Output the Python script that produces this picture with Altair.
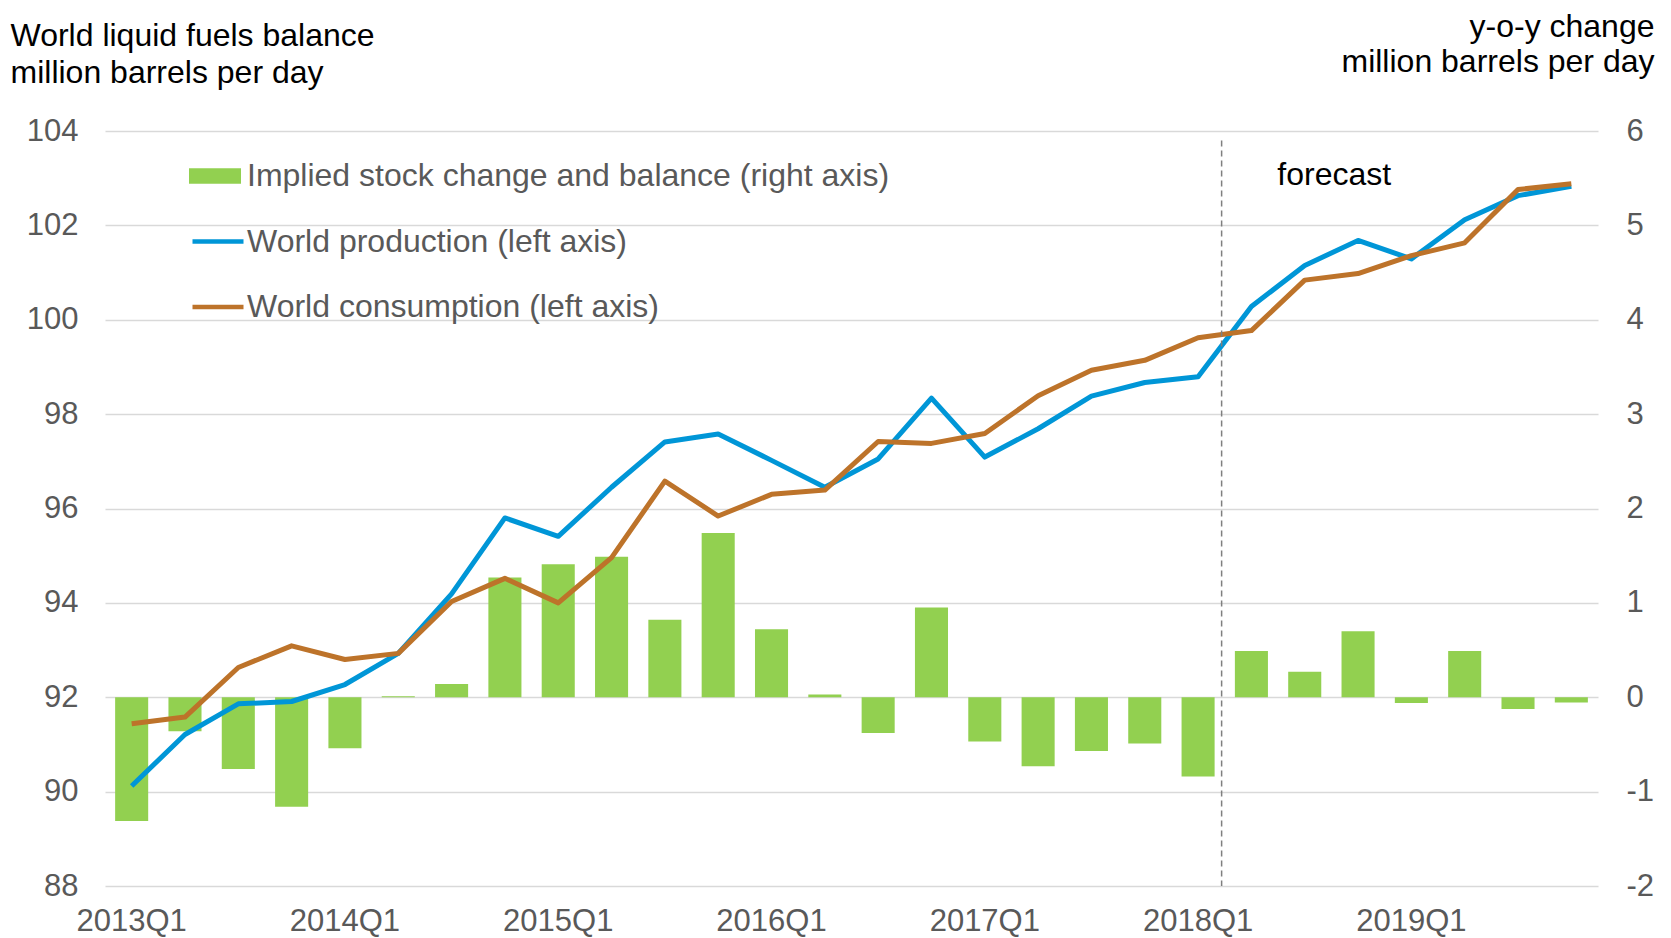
import altair as alt
import pandas as pd

quarters = ["2013Q1", "2013Q2", "2013Q3", "2013Q4",
            "2014Q1", "2014Q2", "2014Q3", "2014Q4",
            "2015Q1", "2015Q2", "2015Q3", "2015Q4",
            "2016Q1", "2016Q2", "2016Q3", "2016Q4",
            "2017Q1", "2017Q2", "2017Q3", "2017Q4",
            "2018Q1", "2018Q2", "2018Q3", "2018Q4",
            "2019Q1", "2019Q2", "2019Q3", "2019Q4"]

production = [90.12, 91.21, 91.86, 91.91, 92.27, 92.93, 94.19, 95.80,
              95.41, 96.45, 97.41, 97.58, 97.02, 96.45, 97.05, 98.34,
              97.09, 97.69, 98.38, 98.67, 98.79, 100.28, 101.15, 101.68,
              101.29, 102.12, 102.63, 102.83]

consumption = [91.44, 91.58, 92.63, 93.09, 92.80, 92.93, 94.03, 94.52,
               94.00, 94.96, 96.58, 95.84, 96.30, 96.39, 97.42, 97.38,
               97.59, 98.39, 98.93, 99.14, 99.62, 99.77, 100.84, 100.98,
               101.36, 101.63, 102.76, 102.88]

stock_change = [-1.31, -0.36, -0.76, -1.16, -0.54, 0.01, 0.14, 1.27,
                1.41, 1.49, 0.82, 1.74, 0.72, 0.03, -0.38, 0.95,
                -0.47, -0.73, -0.57, -0.49, -0.84, 0.49, 0.27, 0.70,
                -0.06, 0.49, -0.125, -0.055]

x_labels = ["2013Q1", "2014Q1", "2015Q1", "2016Q1", "2017Q1", "2018Q1", "2019Q1"]
left_ticks = [88, 90, 92, 94, 96, 98, 100, 102, 104]
right_ticks = [-2, -1, 0, 1, 2, 3, 4, 5, 6]

BAR_LABEL = "Implied stock change and balance (right axis)"
PROD_LABEL = "World production (left axis)"
CONS_LABEL = "World consumption (left axis)"

forecast_q = ["2018Q1"]
forecast_text_q = ["2018Q3"]
forecast_label = ["forecast"]

FONT = "Liberation Sans"
GRAY = "#595959"

df_bar = pd.DataFrame({"quarter": quarters, "change": stock_change,
                       "series": [BAR_LABEL] * len(quarters)})
df_line = pd.concat([
    pd.DataFrame({"quarter": quarters, "value": production, "series": PROD_LABEL}),
    pd.DataFrame({"quarter": quarters, "value": consumption, "series": CONS_LABEL}),
])
df_rule = pd.DataFrame({"quarter": forecast_q, "value": [103.8], "bottom": [88]})
df_text = pd.DataFrame({"quarter": forecast_text_q, "value": [102.85], "label": forecast_label})

W, H = 1493, 755

x_scale = alt.Scale(domain=quarters, paddingInner=0.38, paddingOuter=0.19)
x_axis = alt.Axis(values=x_labels, labelAngle=0, ticks=False, domain=False, grid=False,
                  labelPadding=20, labelFontSize=31, labelColor=GRAY, title=None,
                  labelBaseline="top", labelFont=FONT)

left_axis = alt.Axis(orient="left", values=left_ticks, grid=True, gridColor="#D9D9D9",
                     gridWidth=1.5, domain=False, ticks=False, labelPadding=27,
                     labelFontSize=31, labelColor=GRAY, labelFont=FONT,
                     title=["World liquid fuels balance", "million barrels per day"],
                     titleAngle=0, titleAlign="left", titleBaseline="top",
                     titleX=-95, titleY=-111, titleLineHeight=37,
                     titleFontSize=32, titleFontWeight="normal", titleColor="black",
                     titleFont=FONT)
left_scale = alt.Scale(domain=[88, 104], nice=False, zero=False)

bars = alt.Chart(df_bar).mark_bar(color="#92D050").encode(
    x=alt.X("quarter:O", scale=x_scale, axis=x_axis, sort=quarters),
    y=alt.Y("change:Q",
            scale=alt.Scale(domain=[-2, 6], nice=False),
            axis=alt.Axis(orient="right", values=right_ticks, grid=False, domain=False,
                          ticks=False, labelPadding=28, labelFontSize=31, labelColor=GRAY,
                          labelExpr="toString(datum.value)", labelFont=FONT,
                          title=["y-o-y change", "million barrels per day"],
                          titleAngle=0, titleAlign="right", titleBaseline="top",
                          titleX=56, titleY=-120, titleLineHeight=35,
                          titleFontSize=32, titleFontWeight="normal", titleColor="black",
                          titleFont=FONT)),
    y2=alt.datum(0),
    fill=alt.Fill("series:N",
                  scale=alt.Scale(domain=[BAR_LABEL], range=["#92D050"]),
                  legend=alt.Legend(orient="none", legendX=84, legendY=19, title=None,
                                    symbolType="M-1,-0.3H1V0.3H-1Z", symbolSize=2704,
                                    symbolStrokeWidth=0, labelFontSize=32, labelColor=GRAY,
                                    labelLimit=1200, labelOffset=6, padding=0,
                                    labelFont=FONT)),
)

lines = alt.Chart(df_line).mark_line(strokeWidth=5, strokeJoin="round").encode(
    x=alt.X("quarter:O", scale=x_scale, axis=x_axis, sort=quarters, bandPosition=0.5),
    y=alt.Y("value:Q", scale=left_scale, axis=left_axis),
    stroke=alt.Stroke("series:N",
                      scale=alt.Scale(domain=[PROD_LABEL, CONS_LABEL],
                                      range=["#0096D7", "#BD732A"]),
                      legend=alt.Legend(orient="none", legendX=85, legendY=82.5, title=None,
                                        symbolType="stroke", symbolSize=2601,
                                        symbolStrokeWidth=4.5, labelFontSize=32,
                                        labelColor=GRAY, labelLimit=1200, labelOffset=1,
                                        rowPadding=21.5, padding=0, labelFont=FONT)),
    order=alt.Order("series:N"),
)

rule = alt.Chart(df_rule).mark_rule(color="#7F7F7F", strokeWidth=1.5, strokeDash=[6, 4],
                                    xOffset=7).encode(
    x=alt.X("quarter:O", scale=x_scale, axis=x_axis, sort=quarters, bandPosition=1),
    y=alt.Y("value:Q", scale=left_scale, axis=left_axis),
    y2="bottom:Q",
)

text = alt.Chart(df_text).mark_text(align="center", baseline="alphabetic", fontSize=32,
                                    color="black", font=FONT, dx=13).encode(
    x=alt.X("quarter:O", scale=x_scale, axis=x_axis, sort=quarters, bandPosition=1),
    y=alt.Y("value:Q", scale=left_scale, axis=left_axis),
    text="label:N",
)

left_layer = alt.layer(lines, rule, text)

chart = alt.layer(bars, left_layer).resolve_scale(
    y="independent"
).properties(
    width=W, height=H,
    autosize=alt.AutoSizeParams(type="none"),
    padding={"left": 97, "top": 123, "right": 65, "bottom": 52},
    background="white",
).configure(font=FONT).configure_view(stroke=None)

chart.save("out.html", embed_options={"renderer": "svg", "actions": False})
